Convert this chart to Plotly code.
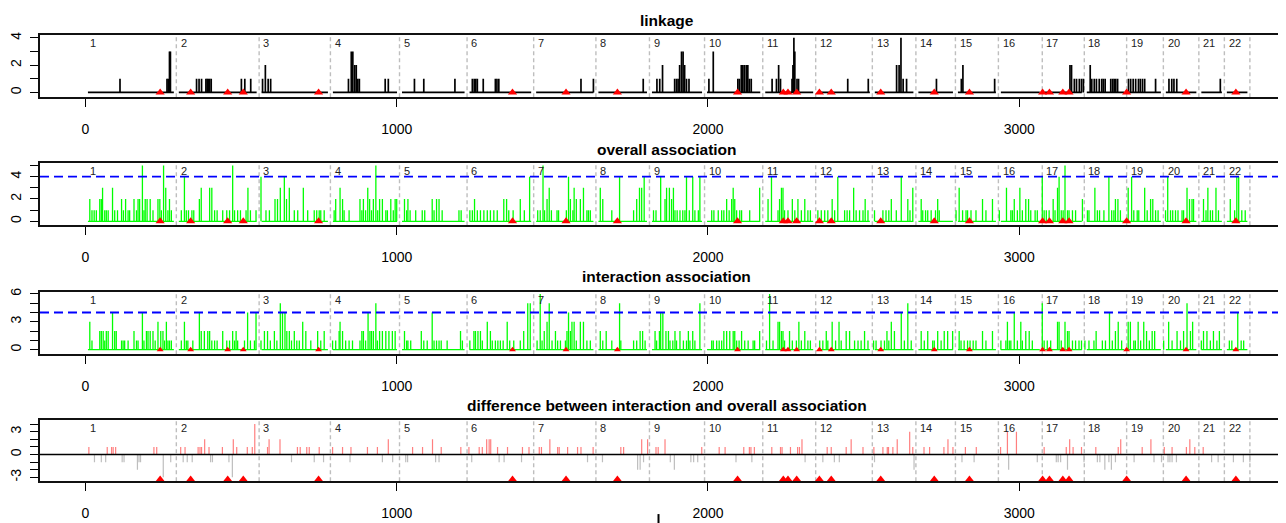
import plotly.graph_objects as go

# The page body adds an 8px margin, so the figure is sized to fill the rest of the
# 1286x523 window and every reference pixel position is shifted by OFF.
OFF = 8
W, H = 1286 - OFF, 523 - OFF

# ---------------- data ----------------
chrom_names = [str(i) for i in range(1, 23)]
chrom_starts = [0, 292, 558, 787, 1009, 1226, 1440, 1640, 1812, 1989, 2176,
                2346, 2528, 2668, 2795, 2933, 3074, 3209, 3345, 3463, 3577, 3659]
chrom_end = 3741

marker_pos = [240, 338, 457, 507, 749, 1372, 1544, 1709, 2095, 2242, 2257, 2285,
              2358, 2396, 2555, 2727, 2840, 3075, 3097, 3140, 3160, 3345, 3536, 3696]

x_ticks = [0, 1000, 2000, 3000]
threshold = 4

linkage = [(111,1),(262,1),(266,1),(270,3),(273,3),(357,1),(365,1),(373,1),(387,1),(391,1),(395,1),(399,1),(404,1),
(501,1),(512,1),(531,1),(569,1),(578,2),(587,1),(595,1),(845,1),(854,3),(859,3),(865,2),(870,2),(875,1),(880,1),
(963,1),(973,1),(1057,1),(1087,1),(1187,1),(1243,1),(1249,1),(1254,1),(1259,1),(1278,1),(1317,1),(1322,1),(1328,1),
(1592,1),(1632,1),(1792,1),(1836,1),(1845,1),(1854,2),(1893,1),(1899,1),(1904,1),(1909,2),(1915,3),(1920,3),(1925,2),
(1931,1),(1939,1),(2003,1),(2017,3),(2096,1),(2101,1),(2107,2),(2112,2),(2117,2),(2123,2),(2128,2),(2133,1),(2139,1),
(2206,1),(2220,1),(2227,2),(2233,1),(2270,1),(2273,2),(2276,4),(2279,3),(2286,1),(2291,1),(2449,1),(2515,1),
(2606,2),(2614,2),(2620,4),(2627,1),(2638,1),(2734,1),(2814,1),(2819,2),(2921,1),(3163,2),(3168,2),(3177,1),(3184,1),
(3193,1),(3200,1),(3206,1),(3228,2),(3233,1),(3241,1),(3248,1),(3257,1),(3265,1),(3270,1),(3276,1),(3294,1),(3300,1),
(3305,1),(3310,1),(3316,1),(3351,1),(3358,1),(3366,1),(3374,1),(3383,1),(3389,1),(3396,1),(3403,1),(3438,1),
(3481,1),(3490,1),(3497,1),(3506,1),(3646,1)]

overall = [(14,2),(21,1),(28,1),(35,1),(46,2),(51,2),(55,3),(62,1),(67,1),(73,1),(87,3),(94,1),(103,1),(116,2),(122,1),
(129,2),(137,1),(142,1),(156,2),(164,1),(169,2),(174,2),(183,5),(188,1),(192,2),(198,2),(208,2),(217,1),(233,2),(239,2),
(244,1),(251,5),(258,3),(265,1),(270,2),(276,1),
(308,1),(318,4),(324,1),(331,1),(342,1),(348,1),(366,2),(372,3),(399,3),(406,3),(415,1),(423,1),(441,1),(454,1),(463,1),
(473,5),(479,1),(489,1),(498,1),(516,1),(522,3),(530,1),(548,1),
(564,4),(580,1),(591,1),(609,2),(617,2),(626,3),(639,4),(646,2),(655,3),(671,1),(682,1),(700,3),(714,1),(735,1),(743,1),
(751,1),(756,1),(767,1),
(799,1),(804,2),(818,3),(826,2),(831,1),(847,1),(882,2),(888,1),(893,2),(900,1),(907,3),(913,2),(919,1),(925,2),(933,5),
(939,1),(945,2),(954,2),(965,1),(970,1),(981,2),(989,1),(995,2),(1000,2),
(1025,2),(1032,1),(1036,2),(1043,1),(1061,1),(1082,1),(1090,1),(1114,2),(1120,1),(1128,2),(1136,2),(1146,1),(1200,1),(1207,1),
(1235,1),(1243,1),(1250,2),(1259,1),(1269,1),(1280,1),(1291,1),(1301,1),(1312,1),(1323,1),(1344,2),(1353,2),(1360,1),
(1374,1),(1397,2),(1410,1),(1427,4),
(1453,1),(1461,1),(1470,5),(1475,1),(1483,2),(1490,3),(1497,1),(1515,1),(1520,1),(1545,1),(1552,4),(1558,2),(1566,1),
(1570,3),(1577,2),(1590,2),(1600,3),(1611,1),(1616,1),(1622,1),
(1654,3),(1662,2),(1691,1),(1716,4),(1761,1),(1771,2),(1780,3),(1787,3),(1795,4),
(1825,1),(1833,1),(1848,4),(1862,2),(1867,3),(1876,3),(1883,2),(1889,3),(1894,1),(1901,1),(1910,1),(1919,1),(1926,1),
(1931,4),(1940,1),(1951,4),(1958,1),(1969,1),(1974,4),
(2012,1),(2019,1),(2033,1),(2044,1),(2051,1),(2060,2),(2068,1),(2076,2),(2081,3),(2086,2),(2092,1),(2102,1),(2108,1),
(2134,1),(2166,3),
(2193,2),(2204,4),(2225,1),(2230,2),(2236,3),(2241,3),(2246,1),(2257,1),(2271,2),(2279,1),(2289,2),(2300,1),(2311,2),
(2321,1),(2329,1),
(2353,1),(2364,1),(2375,1),(2385,1),(2399,2),(2407,1),(2417,4),(2439,1),(2447,1),(2455,1),(2468,3),(2476,1),(2487,1),
(2498,1),(2505,2),(2514,1),
(2535,1),(2562,1),(2572,1),(2581,1),(2589,2),(2605,1),(2621,4),(2642,2),(2649,1),(2658,3),
(2685,2),(2690,1),(2699,1),(2706,1),(2717,1),(2731,1),(2738,2),(2743,1),
(2797,1),(2807,3),(2818,1),(2829,1),(2834,1),(2845,1),(2861,1),(2882,2),(2893,1),(2914,2),
(2936,1),(2959,3),(2973,1),(2978,1),(2984,2),(2994,1),(3002,3),(3010,1),(3021,2),(3030,2),(3037,1),(3051,1),(3058,1),
(3074,4),(3080,1),(3087,1),(3096,1),(3109,2),(3115,1),(3123,3),(3128,4),(3135,1),(3141,1),(3147,5),(3155,1),(3160,1),
(3171,1),(3181,1),(3203,2),
(3219,1),(3224,1),(3243,3),(3251,1),(3258,1),(3272,1),(3288,4),(3297,1),(3304,1),(3309,2),(3317,2),(3325,1),
(3350,3),(3361,4),(3368,1),(3379,1),(3384,1),(3403,3),(3411,1),(3422,2),(3429,2),(3438,1),(3446,1),
(3470,1),(3477,4),(3486,1),(3493,1),(3502,1),(3510,1),(3523,1),(3528,1),(3539,3),(3547,2),(3555,2),(3560,2),
(3592,2),(3600,1),(3606,3),(3614,1),(3621,1),(3632,3),(3640,1),
(3678,2),(3692,1),(3699,4),(3705,4),(3715,1),(3726,1)]

interaction = [(14,3),(21,1),(46,2),(51,2),(57,2),(62,1),(67,2),(73,2),(87,4),(94,2),(99,2),(116,1),(121,1),(126,1),
(137,1),(156,2),(164,1),(169,1),(183,4),(188,1),(196,2),(201,2),(208,2),(217,2),(224,1),(233,3),(242,2),(249,2),(254,1),
(260,3),(265,1),(270,1),(276,1),
(308,1),(318,3),(324,1),(329,1),(345,1),(366,4),(372,2),(382,2),(393,2),(399,2),(406,1),(415,1),(423,1),(441,2),(454,1),
(463,1),(473,2),(479,1),(484,2),(489,1),(511,1),(521,4),(530,1),(543,1),(548,4),
(564,1),(575,2),(585,2),(594,1),(607,2),(615,1),(626,5),(633,4),(641,4),(647,2),(655,2),(662,1),(671,2),(679,1),(687,1),
(698,3),(708,2),(724,1),(746,2),(756,1),(767,2),
(794,1),(804,1),(815,2),(818,3),(826,2),(836,1),(847,1),(858,1),(882,1),(888,2),(893,2),(900,1),(908,4),(914,2),(919,2),
(925,2),(933,5),(938,1),(945,2),(954,2),(965,2),(975,2),(986,2),(995,2),
(1025,2),(1032,1),(1036,1),(1045,1),(1079,2),(1087,1),(1098,1),(1114,4),(1120,1),(1128,1),(1136,1),(1143,1),(1162,1),
(1205,2),(1211,1),
(1235,1),(1248,2),(1253,2),(1261,2),(1269,2),(1275,1),(1291,3),(1301,2),(1307,1),(1317,1),(1325,1),(1333,1),(1342,1),
(1355,3),(1363,1),(1376,1),(1397,1),(1408,2),(1421,5),(1429,5),
(1451,1),(1461,6),(1467,1),(1474,2),(1483,3),(1490,5),(1499,1),(1510,2),(1517,1),(1526,1),(1542,1),(1547,2),(1552,4),
(1558,2),(1563,3),(1570,3),(1577,1),(1590,3),(1600,3),(1611,1),(1622,1),
(1654,2),(1662,1),(1673,2),(1691,1),(1716,5),(1720,1),(1761,1),(1771,1),(1782,2),(1790,2),(1798,1),
(1830,2),(1835,1),(1844,2),(1848,4),(1855,4),(1865,2),(1873,2),(1878,1),(1887,1),(1894,2),(1899,1),(1910,2),(1921,1),
(1931,1),(1937,2),(1942,1),(1951,2),(1958,1),(1974,5),
(2012,1),(2017,1),(2028,1),(2036,1),(2044,1),(2051,2),(2060,2),(2070,2),(2081,2),(2086,2),(2092,1),(2100,1),(2108,2),
(2118,1),(2129,1),(2145,1),(2150,1),(2166,2),
(2188,1),(2198,6),(2209,1),(2225,3),(2230,3),(2236,2),(2241,2),(2246,1),(2262,2),(2271,1),(2284,1),(2292,3),(2300,1),
(2311,2),(2321,1),(2329,1),
(2359,1),(2369,1),(2380,2),(2385,1),(2399,3),(2410,1),(2421,3),(2428,1),(2444,2),(2455,2),(2471,1),(2482,1),(2492,1),
(2503,2),(2514,1),
(2532,1),(2540,1),(2556,1),(2567,1),(2575,2),(2581,1),(2589,3),(2599,2),(2621,4),(2631,1),(2642,5),(2653,1),
(2685,2),(2695,1),(2706,2),(2722,1),(2727,1),(2738,2),(2749,1),(2759,2),(2770,2),(2786,2),
(2807,2),(2813,1),(2823,1),(2834,1),(2842,1),(2852,1),(2861,1),(2882,2),(2893,1),(2914,2),
(2941,1),(2957,1),(2962,3),(2968,1),(2973,1),(2984,4),(2994,1),(3005,3),(3010,1),(3021,2),(3032,2),(3042,1),
(3074,5),(3080,1),(3090,1),(3101,1),(3123,3),(3128,3),(3135,1),(3147,3),(3155,2),(3160,2),(3171,1),(3181,1),(3192,1),
(3200,1),
(3211,1),(3224,1),(3240,1),(3247,2),(3267,1),(3277,1),(3290,4),(3299,1),(3309,2),(3318,3),(3329,1),
(3350,3),(3357,3),(3368,1),(3373,1),(3382,3),(3390,1),(3400,3),(3409,2),(3418,1),(3427,2),(3435,2),
(3464,1),(3480,3),(3491,1),(3507,2),(3518,1),(3528,2),(3539,5),(3550,2),(3557,3),
(3585,1),(3592,2),(3603,2),(3614,1),(3624,2),(3635,1),(3643,2),
(3675,1),(3683,1),(3702,4),(3713,1),(3721,1)]

difference = [(11,1),(70,1),(84,1),(89,1),(97,1),(220,1),(229,1),(306,1),(320,1),(362,1),(368,1),(373,1),(383,2),
(397,1),(440,1),(475,2),(486,1),(520,1),(536,1),(544,4),(585,1),(590,2),(625,2),(681,1),(690,1),(711,1),(719,1),
(751,1),(794,1),(826,1),(853,1),(906,1),(938,1),(973,2),(1051,1),(1083,1),
(1115,2),(1143,1),(1206,1),(1232,1),(1265,1),(1275,1),(1289,2),(1297,2),(1302,2),(1324,1),(1356,1),(1404,1),(1425,1),
(1458,1),(1465,1),(1492,2),(1517,1),(1522,1),(1549,1),(1581,1),(1592,1),(1631,1),(1720,1),(1729,1),(1787,2),(1806,2),
(1833,1),(1840,1),(1862,2),(1980,1),(2036,1),(2055,1),(2115,1),(2133,1),(2138,1),(2149,1),(2205,1),(2233,1),(2238,1),
(2265,1),(2288,1),(2294,1),(2302,2),(2383,1),(2396,1),(2444,1),
(2460,2),(2498,1),(2533,1),(2562,1),(2576,1),(2580,1),(2594,1),(2608,2),(2648,3),(2658,1),(2694,1),(2712,1),(2758,1),
(2771,2),(2787,1),(2827,1),(2862,1),(2940,1),(2962,3),(2991,3),(3080,1),(3151,1),(3162,2),(3173,1),(3200,1),(3246,1),
(3318,1),(3326,2),(3395,1),(3423,2),(3466,1),(3491,1),(3537,1),(3548,2),(3564,1),(3591,1),
(29,-1),(51,-1),(65,-1),(118,-1),(124,-1),(167,-2),(172,-1),(177,-1),(250,-3),(274,-1),(314,-1),(327,-1),(343,-1),
(402,-1),(408,-1),(461,-1),(472,-3),(662,-1),(735,-1),(765,-1),(850,-1),(954,-1),(987,-1),(1029,-1),(1035,-1),
(1125,-1),(1136,-1),(1241,-1),(1329,-1),(1345,-1),(1401,-1),(1613,-1),(1661,-1),(1774,-2),(1782,-2),(1793,-1),
(1879,-1),(1892,-2),(1945,-1),(1954,-1),(1967,-1),(2090,-1),(2141,-1),(2312,-1),(2369,-1),(2406,-1),(2422,-1),
(2535,-1),(2662,-2),(2816,-1),(2855,-1),(2966,-2),(3058,-1),(3119,-1),(3125,-1),(3133,-1),(3155,-2),(3208,-1),
(3251,-1),(3259,-1),(3275,-2),(3288,-1),(3296,-2),(3309,-1),(3369,-1),(3433,-1),(3457,-1),(3478,-1),(3484,-1),
(3491,-1),(3505,-1),(3618,-1),(3639,-1),(3688,-1),(3720,-1),(3741,-1)]

titles = ["linkage", "overall association", "interaction association",
          "difference between interaction and overall association"]

# ---------------- layout helpers ----------------
FONT = "Liberation Sans, Arial, sans-serif"
ML = 39 - OFF
XR = [-146, 3857]

# panel boxes in reference window pixels (top, bottom)
boxes = [(31, 94), (160, 223), (290, 353), (419, 481)]
yranges = [[-0.36, 4.22], [-0.36, 5.24], [-0.5, 6.23], [-3.52, 4.56]]
ytickvals = [list(range(0, 5)), list(range(0, 6)), list(range(0, 7)), list(range(-3, 5))]
yticktext = [["0", "", "2", "", "4"], ["0", "", "2", "", "4", ""],
             ["0", "", "", "3", "", "", "6"], ["-3", "", "", "0", "", "", "3", ""]]
title_px = [17, 147, 275, 405]


def py(p):
    """reference window pixel row -> paper y"""
    return 1 - (p - OFF) / H


def spike_xy(pairs, base=0.0):
    xs, ys = [], []
    for p, v in pairs:
        xs += [p, p, None]
        ys += [base, v, None]
    return xs, ys


def baseline_xy():
    xs, ys = [], []
    ends = chrom_starts[1:] + [chrom_end]
    for s, e in zip(chrom_starts, ends):
        xs += [s + 8, e - 8, None]
        ys += [0, 0, None]
    return xs, ys


fig = go.Figure()
shapes = []
annotations = []

for i in range(4):
    n = "" if i == 0 else str(i + 1)
    xa, ya = "x" + n, "y" + n
    top, bot = boxes[i]
    domain = [py(bot), py(top)]
    fig.update_layout(**{
        "xaxis" + n: dict(domain=[0, 1], anchor=ya, range=XR, tickvals=x_ticks,
                          ticktext=[str(t) for t in x_ticks], ticks="outside", ticklen=8,
                          tickwidth=1.3, tickcolor="#000", showline=True, linecolor="#111",
                          linewidth=1.6, mirror=True, showgrid=False, zeroline=False,
                          tickfont=dict(size=14, color="#000", family=FONT),
                          ticklabelstandoff=10, fixedrange=True),
        "yaxis" + n: dict(domain=domain, anchor=xa, range=yranges[i], tickvals=ytickvals[i],
                          ticktext=yticktext[i], ticks="outside", ticklen=8, tickwidth=1.3,
                          tickcolor="#000", showline=True, linecolor="#111", linewidth=1.6,
                          showgrid=False, zeroline=False, tickangle=-90,
                          tickfont=dict(size=14, color="#000", family=FONT),
                          ticklabelstandoff=4, fixedrange=True),
    })

    # chromosome dividers
    for b in chrom_starts[1:] + [chrom_end]:
        shapes.append(dict(type="line", xref=xa, yref=ya + " domain", x0=b, x1=b, y0=0, y1=1,
                           line=dict(color="#BEBEBE", width=1.4, dash="4px,3px"), layer="below"))
    # chromosome labels
    for s, name in zip(chrom_starts, chrom_names):
        annotations.append(dict(x=s + 7, y=1 - 8 / (bot - top), xref=xa, yref=ya + " domain",
                                text=name, showarrow=False, xanchor="left", yanchor="middle",
                                font=dict(size=11, color="#222", family=FONT)))
    # panel title
    annotations.append(dict(x=0.503, y=py(title_px[i]), xref="paper", yref="paper",
                            text="<b>" + titles[i] + "</b>", showarrow=False,
                            xanchor="center", yanchor="middle",
                            font=dict(size=15.5, color="#000", family=FONT)))

# panel 1: linkage
bx, by = baseline_xy()
fig.add_trace(go.Scatter(x=bx, y=by, mode="lines", line=dict(color="#000", width=1.7),
                         xaxis="x", yaxis="y", hoverinfo="skip"))
sx, sy = spike_xy(linkage)
fig.add_trace(go.Scatter(x=sx, y=sy, mode="lines", line=dict(color="#000", width=1.7),
                         xaxis="x", yaxis="y", hoverinfo="skip"))

# panel 2 and 3: association
for k, series in ((2, overall), (3, interaction)):
    fig.add_trace(go.Scatter(x=bx, y=by, mode="lines", line=dict(color="#00FF00", width=1.2),
                             xaxis="x%d" % k, yaxis="y%d" % k, hoverinfo="skip"))
    sx, sy = spike_xy(series)
    fig.add_trace(go.Scatter(x=sx, y=sy, mode="lines", line=dict(color="#00FF00", width=1.3),
                             xaxis="x%d" % k, yaxis="y%d" % k, hoverinfo="skip"))
    shapes.append(dict(type="line", xref="x%d domain" % k, yref="y%d" % k, x0=0, x1=1,
                       y0=threshold, y1=threshold,
                       line=dict(color="#0000FF", width=1.8, dash="9px,5px")))

# panel 4: difference
pos_pairs = [p for p in difference if p[1] > 0]
neg_pairs = [p for p in difference if p[1] < 0]
sx, sy = spike_xy(pos_pairs)
fig.add_trace(go.Scatter(x=sx, y=sy, mode="lines", line=dict(color="#FF7F7F", width=1.2),
                         xaxis="x4", yaxis="y4", hoverinfo="skip"))
sx, sy = spike_xy(neg_pairs)
fig.add_trace(go.Scatter(x=sx, y=sy, mode="lines", line=dict(color="#BEBEBE", width=1.2),
                         xaxis="x4", yaxis="y4", hoverinfo="skip"))
shapes.append(dict(type="line", xref="x4 domain", yref="y4", x0=0, x1=1, y0=0, y1=0,
                   line=dict(color="#000", width=1.5)))

# markers (red triangles)
marker_y = [0, 0, 0, -3.3]
marker_size = [8, 8, 6, 8.5]
for i in range(4):
    n = "" if i == 0 else str(i + 1)
    fig.add_trace(go.Scatter(x=marker_pos, y=[marker_y[i]] * len(marker_pos), mode="markers",
                             marker=dict(symbol="triangle-up", color="#FF0000", size=marker_size[i],
                                         line=dict(width=0)),
                             xaxis="x" + n, yaxis="y" + n, hoverinfo="skip", cliponaxis=False))

# small stray mark at bottom of the original image
sx_paper = (658 - OFF - ML) / (W - ML)
shapes.append(dict(type="line", xref="paper", yref="paper", x0=sx_paper, x1=sx_paper,
                   y0=py(514), y1=py(530), line=dict(color="#000", width=2)))

fig.update_layout(width=W, height=H, autosize=False, showlegend=False,
                  margin=dict(l=ML, r=0, t=0, b=0),
                  paper_bgcolor="white", plot_bgcolor="white",
                  shapes=shapes, annotations=annotations,
                  font=dict(family=FONT, color="#000"))

fig.write_html("out.html")
